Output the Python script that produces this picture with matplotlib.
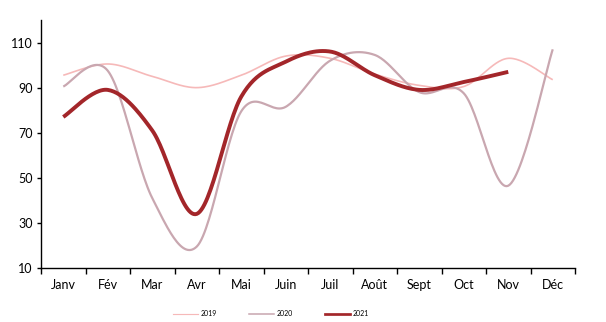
import numpy as np
import matplotlib.pyplot as plt
from matplotlib.lines import Line2D

months = ['Janv', 'Fév', 'Mar', 'Avr', 'Mai', 'Juin', 'Juil', 'Août', 'Sept', 'Oct', 'Nov', 'Déc']
v2019 = [95.5, 100.5, 95, 90, 95.5, 104, 103, 96, 91, 90.5, 103, 93.5]
v2020 = [90.5, 97.5, 41, 19.5, 79.5, 81.5, 102, 104.5, 88, 87.5, 46.5, 107]
v2021 = [77, 89, 71, 34, 86, 101.5, 106, 95.5, 89, 92.5, 97]


def smooth(y, n=30):
    # cubic Bezier through each point, control points from neighbours (Excel-style smoothing)
    y = np.asarray(y, dtype=float)
    x = np.arange(len(y), dtype=float)
    pts = np.column_stack([x, y])
    ext = np.vstack([pts[0], pts, pts[-1]])
    out = []
    t = np.linspace(0, 1, n)[:, None]
    for i in range(len(pts) - 1):
        p0, p1, p2, p3 = ext[i], ext[i + 1], ext[i + 2], ext[i + 3]
        c1 = p1 + (p2 - p0) / 6
        c2 = p2 - (p3 - p1) / 6
        seg = ((1 - t) ** 3) * p1 + 3 * ((1 - t) ** 2) * t * c1 + 3 * (1 - t) * t ** 2 * c2 + t ** 3 * p2
        out.append(seg if i == 0 else seg[1:])
    seg = np.vstack(out)
    return seg[:, 0], seg[:, 1]


plt.rcParams['font.family'] = ['Lato', 'DejaVu Sans']

fig = plt.figure(figsize=(6.06, 3.22), dpi=100)
ax = fig.add_axes([41 / 606, 54 / 322, 534 / 606, 248 / 322])

series = [
    ('2019', v2019, '#f6b9b9', 1.2),
    ('2020', v2020, '#c9a7b0', 1.6),
    ('2021', v2021, '#a3262a', 2.8),
]
for label, vals, color, lw in series:
    xs, ys = smooth(vals)
    ax.plot(xs, ys, color=color, lw=lw, solid_capstyle='butt')

ax.set_xlim(-0.5, len(months) - 0.5)
ax.set_ylim(10, 120)
ax.set_yticks([10, 30, 50, 70, 90, 110])
ax.set_xticks(np.arange(len(months)))
ax.set_xticklabels(months)
ax.set_xticks(np.arange(len(months) + 1) - 0.5, minor=True)
ax.tick_params(axis='x', which='major', length=0, pad=8, labelsize=9)
ax.tick_params(axis='x', which='minor', length=4, width=1, direction='out')
ax.tick_params(axis='y', length=3, width=1, labelsize=9, pad=3)

for s in ['top', 'right']:
    ax.spines[s].set_visible(False)
for s in ['left', 'bottom']:
    ax.spines[s].set_linewidth(1)

handles = [Line2D([0], [0], color=c, lw=lw * 0.7) for _, _, c, lw in series]
fig.legend(handles, [s[0] for s in series], loc='center', bbox_to_anchor=(271 / 606, 1 - 314 / 322),
           ncol=3, frameon=False, fontsize=5, handlelength=3.6, columnspacing=4.6, handletextpad=0.4)

fig.savefig('out.png', dpi=100)
